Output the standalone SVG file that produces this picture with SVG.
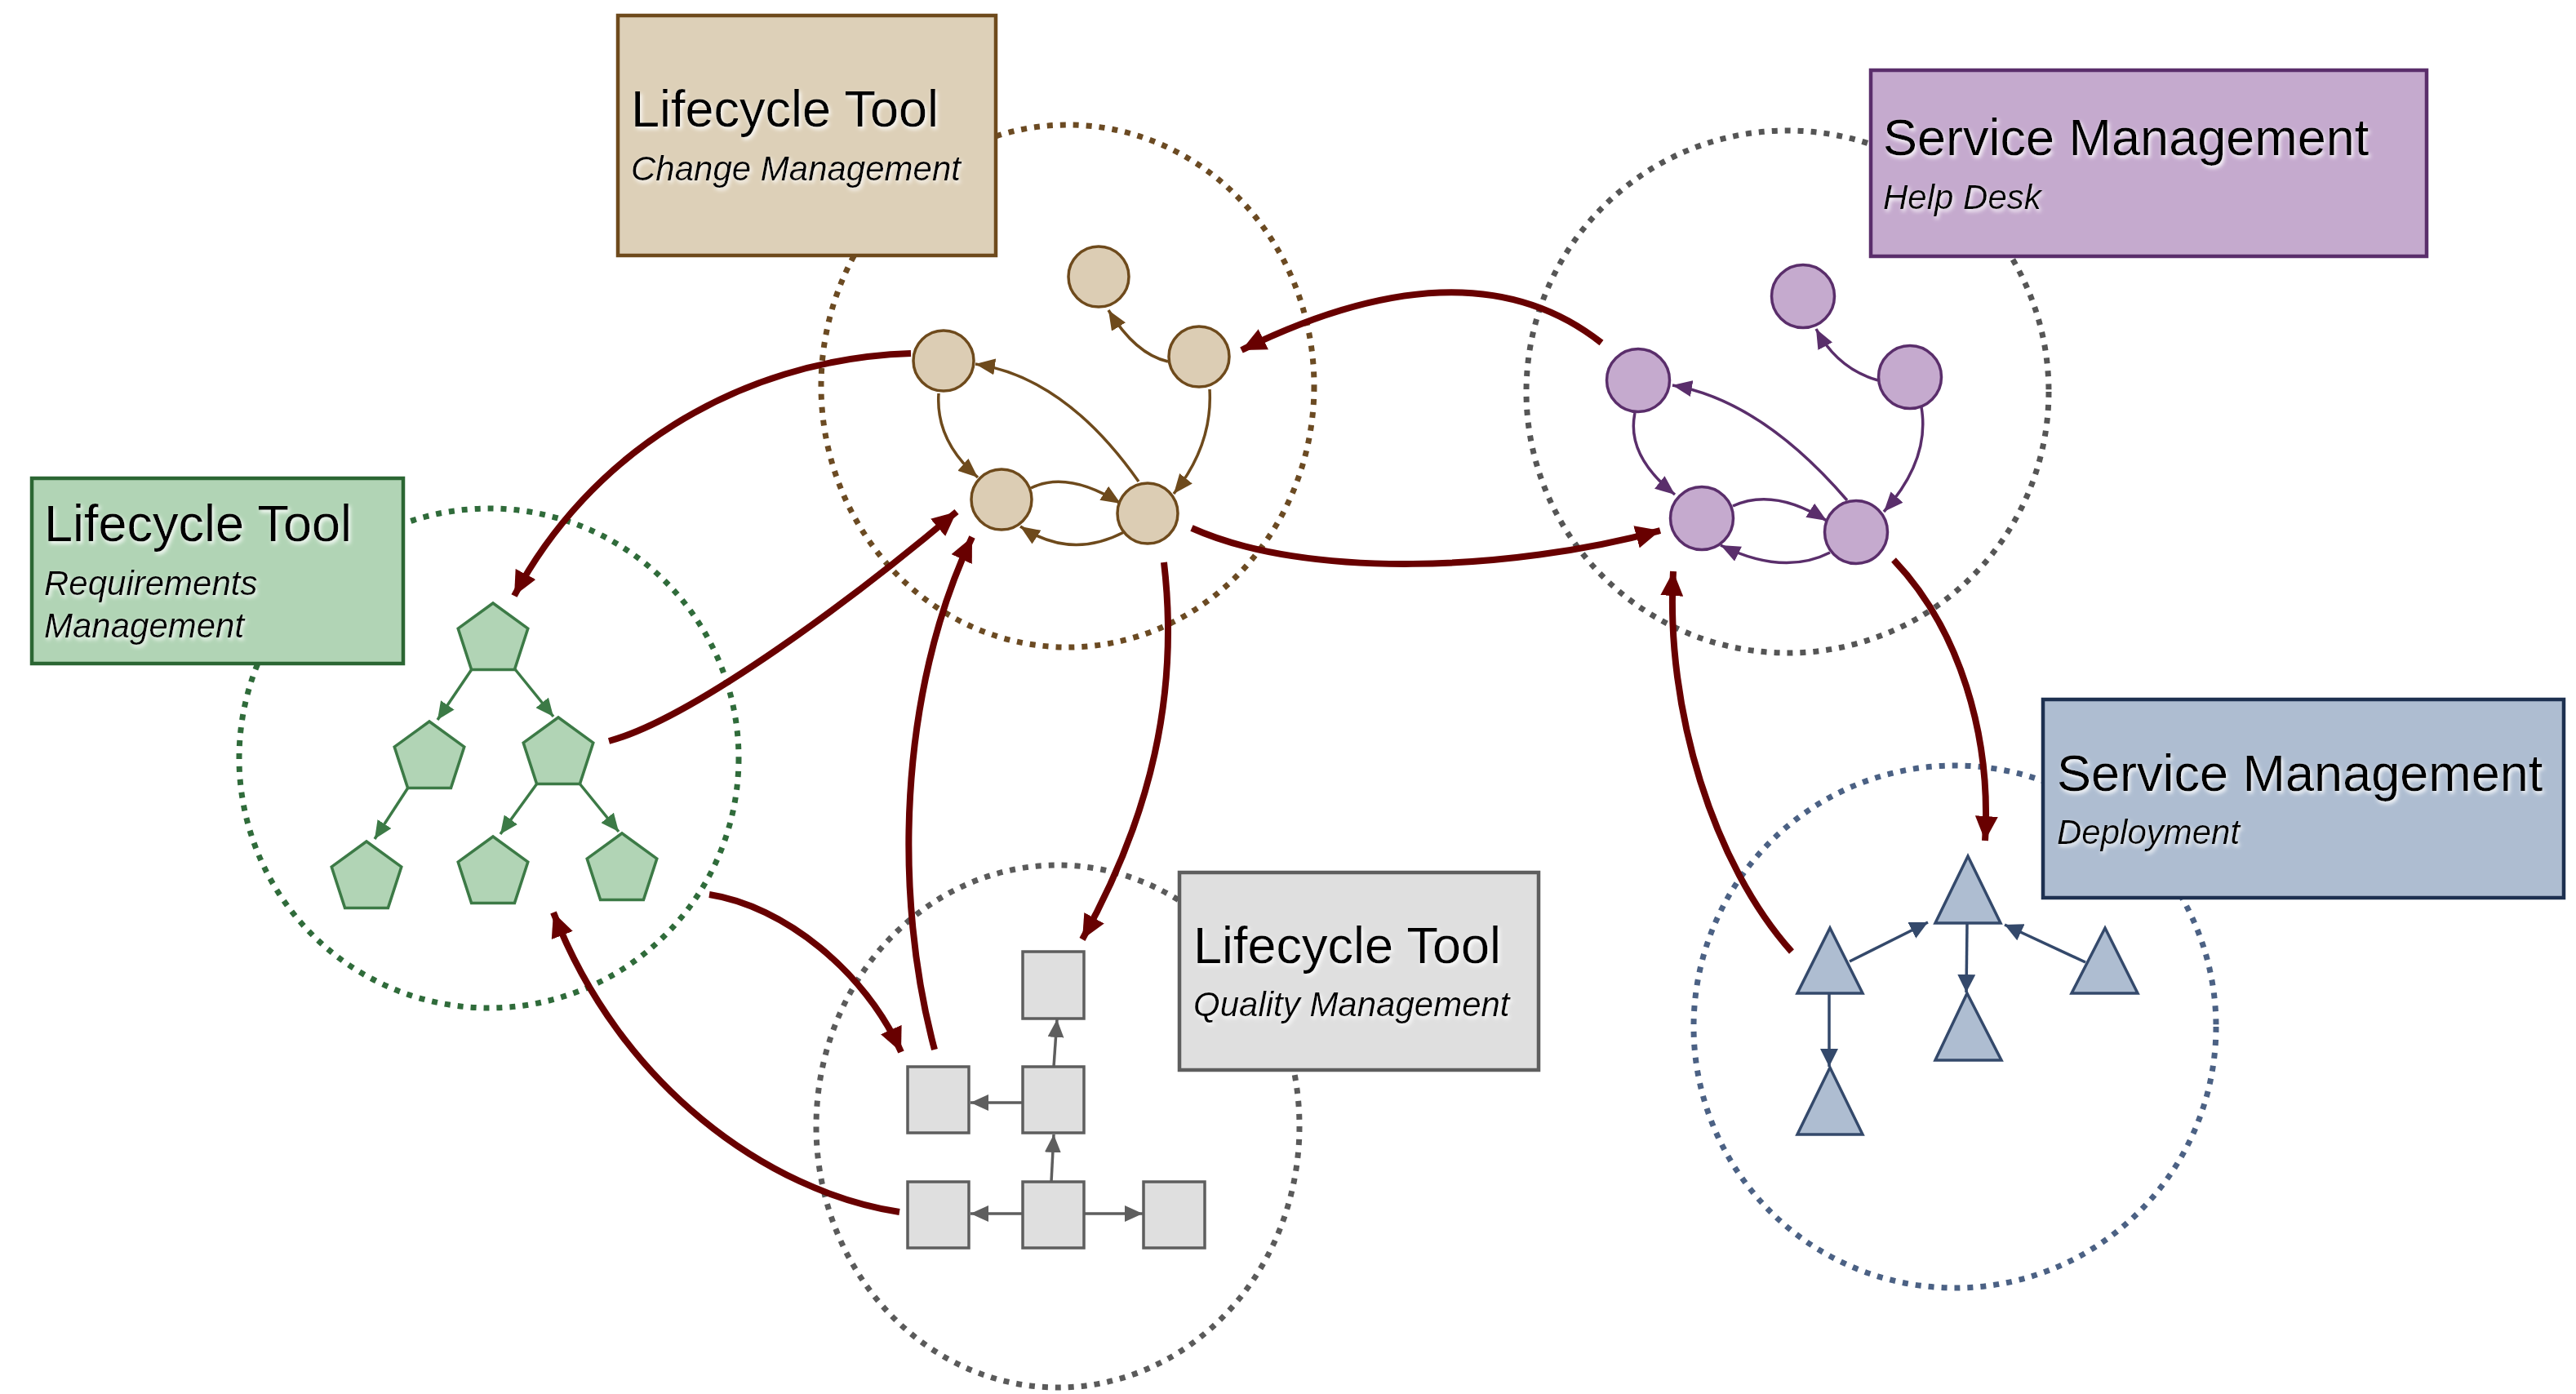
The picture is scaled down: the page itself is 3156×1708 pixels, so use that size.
<svg xmlns="http://www.w3.org/2000/svg" width="3156" height="1708" viewBox="0 0 3156 1708">
  <defs>
    <style>
      .ring { fill: none; stroke-width: 7; stroke-dasharray: 7 9; }
      .box { stroke-width: 4.5; }
      .title { font-family: "Liberation Sans", Arial, sans-serif; font-size: 63px; fill: #000; }
      .sub { font-family: "Liberation Sans", Arial, sans-serif; font-size: 42px; font-style: italic; fill: #000; }
      .link { fill: none; stroke: #680000; stroke-width: 8; marker-end: url(#aRed); }
      .eBrown { fill: none; stroke: #6e4a1c; stroke-width: 3.5; marker-end: url(#aBrown); }
      .ePurple { fill: none; stroke: #5a2e6b; stroke-width: 3.5; marker-end: url(#aPurple); }
      .eGreen { fill: none; stroke: #3c7a46; stroke-width: 3.5; marker-end: url(#aGreen); }
      .eGray { fill: none; stroke: #5e5e5e; stroke-width: 3.5; marker-end: url(#aGray); }
      .eBlue { fill: none; stroke: #34496b; stroke-width: 3.5; marker-end: url(#aBlue); }
      .nBrown { fill: #dccdb4; stroke: #6e4a1c; stroke-width: 3.5; }
      .nPurple { fill: #c5aace; stroke: #5a2e6b; stroke-width: 3.5; }
      .nGreen { fill: #b1d4b5; stroke: #3c7a46; stroke-width: 3.5; }
      .nGray { fill: #dfdfdf; stroke: #5e5e5e; stroke-width: 3.5; }
      .nBlue { fill: #aebdd1; stroke: #34496b; stroke-width: 3.5; }
    </style>
    <filter id="halo" x="-5%" y="-30%" width="110%" height="160%">
      <feGaussianBlur in="SourceAlpha" stdDeviation="2.4" result="b"/>
      <feOffset in="b" dx="2" dy="2.5" result="o"/>
      <feFlood flood-color="#ffffff" flood-opacity="1"/>
      <feComposite in2="o" operator="in" result="w"/>
      <feMerge>
        <feMergeNode in="w"/>
        <feMergeNode in="SourceGraphic"/>
      </feMerge>
    </filter>
    <marker id="aRed" markerUnits="userSpaceOnUse" markerWidth="32" markerHeight="28" refX="30" refY="14" orient="auto">
      <path d="M0,0 L30,14 L0,28 Z" fill="#680000"/>
    </marker>
    <marker id="aBrown" markerUnits="userSpaceOnUse" markerWidth="26" markerHeight="20" refX="24" refY="10" orient="auto">
      <path d="M0,0 L24,10 L0,20 Z" fill="#6e4a1c"/>
    </marker>
    <marker id="aPurple" markerUnits="userSpaceOnUse" markerWidth="26" markerHeight="20" refX="24" refY="10" orient="auto">
      <path d="M0,0 L24,10 L0,20 Z" fill="#5a2e6b"/>
    </marker>
    <marker id="aGreen" markerUnits="userSpaceOnUse" markerWidth="24" markerHeight="20" refX="22" refY="10" orient="auto">
      <path d="M0,0 L22,10 L0,20 Z" fill="#3c7a46"/>
    </marker>
    <marker id="aGray" markerUnits="userSpaceOnUse" markerWidth="24" markerHeight="20" refX="22" refY="10" orient="auto">
      <path d="M0,0 L22,10 L0,20 Z" fill="#5e5e5e"/>
    </marker>
    <marker id="aBlue" markerUnits="userSpaceOnUse" markerWidth="24" markerHeight="22" refX="22" refY="11" orient="auto">
      <path d="M0,0 L22,11 L0,22 Z" fill="#34496b"/>
    </marker>
  </defs>

  <rect width="3156" height="1708" fill="#ffffff"/>

  <!-- Lifecycle Tool: Change Management -->
  <g id="change-management">
    <ellipse class="ring" cx="1308" cy="473" rx="302" ry="320" stroke="#6b4a22"/>
    <rect class="box" x="757" y="19" width="463" height="294" fill="#ddd0b8" stroke="#6e4a1c"/>
    <g filter="url(#halo)">
      <text class="title" x="773" y="155">Lifecycle Tool</text>
      <text class="sub" x="773" y="221">Change Management</text>
    </g>
    <g id="cm-edges">
      <path class="eBrown" d="M1431,443 Q1391,434 1358,380"/>
      <path class="eBrown" d="M1482,477 Q1486,545 1438,605"/>
      <path class="eBrown" d="M1150,482 Q1146,540 1198,585"/>
      <path class="eBrown" d="M1395,590 Q1305,462 1195,446"/>
      <path class="eBrown" d="M1263,598 Q1308,576 1373,617"/>
      <path class="eBrown" d="M1377,652 Q1312,686 1250,645"/>
    </g>
    <circle id="cm-n1" class="nBrown" cx="1346" cy="339" r="37"/>
    <circle id="cm-n2" class="nBrown" cx="1156" cy="442" r="37"/>
    <circle id="cm-n3" class="nBrown" cx="1469" cy="437" r="37"/>
    <circle id="cm-n4" class="nBrown" cx="1227" cy="612" r="37"/>
    <circle id="cm-n5" class="nBrown" cx="1406" cy="629" r="37"/>
  </g>

  <!-- Service Management: Help Desk -->
  <g id="help-desk">
    <circle class="ring" cx="2190" cy="480" r="320" stroke="#555555"/>
    <rect class="box" x="2292" y="86" width="681" height="228" fill="#c5aace" stroke="#5a2e6b"/>
    <g filter="url(#halo)">
      <text class="title" x="2307" y="190">Service Management</text>
      <text class="sub" x="2307" y="256">Help Desk</text>
    </g>
    <g id="hd-edges">
      <path class="ePurple" d="M2301,466 Q2251,452 2225,403"/>
      <path class="ePurple" d="M2354,499 Q2365,563 2308,627"/>
      <path class="ePurple" d="M2003,506 Q1992,558 2052,606"/>
      <path class="ePurple" d="M2263,613 Q2158,491 2049,472"/>
      <path class="ePurple" d="M2123,620 Q2173,597 2238,638"/>
      <path class="ePurple" d="M2242,677 Q2185,706 2108,668"/>
    </g>
    <circle id="hd-n1" class="nPurple" cx="2209" cy="363" r="38.5"/>
    <circle id="hd-n2" class="nPurple" cx="2007" cy="466" r="38.5"/>
    <circle id="hd-n3" class="nPurple" cx="2340" cy="462" r="38.5"/>
    <circle id="hd-n4" class="nPurple" cx="2085" cy="635" r="38.5"/>
    <circle id="hd-n5" class="nPurple" cx="2274" cy="652" r="38.5"/>
  </g>

  <!-- Lifecycle Tool: Requirements Management -->
  <g id="requirements-management">
    <circle class="ring" cx="599" cy="929" r="306" stroke="#2f6b3a"/>
    <rect class="box" x="39" y="586" width="455" height="227" fill="#b1d4b5" stroke="#2b6633"/>
    <g filter="url(#halo)">
      <text class="title" x="54" y="663">Lifecycle Tool</text>
      <text class="sub" x="54" y="729">Requirements</text>
      <text class="sub" x="54" y="781">Management</text>
    </g>
    <g id="rm-edges">
      <path class="eGreen" d="M578,820 L536,882"/>
      <path class="eGreen" d="M631,820 L678,878"/>
      <path class="eGreen" d="M500,965 L459,1028"/>
      <path class="eGreen" d="M658,960 L613,1022"/>
      <path class="eGreen" d="M710,960 L758,1019"/>
    </g>
    <polygon id="rm-n1" class="nGreen" points="604,739 646.8,770.1 630.45,820.4 577.55,820.4 561.2,770.1"/>
    <polygon id="rm-n2" class="nGreen" points="526,884 568.8,915.1 552.45,965.4 499.55,965.4 483.2,915.1"/>
    <polygon id="rm-n3" class="nGreen" points="684,879 726.8,910.1 710.45,960.4 657.55,960.4 641.2,910.1"/>
    <polygon id="rm-n4" class="nGreen" points="449,1031 491.8,1062.1 475.45,1112.4 422.55,1112.4 406.2,1062.1"/>
    <polygon id="rm-n5" class="nGreen" points="604,1025 646.8,1056.1 630.45,1106.4 577.55,1106.4 561.2,1056.1"/>
    <polygon id="rm-n6" class="nGreen" points="762,1021 804.8,1052.1 788.45,1102.4 735.55,1102.4 719.2,1052.1"/>
  </g>

  <!-- Lifecycle Tool: Quality Management -->
  <g id="quality-management">
    <ellipse class="ring" cx="1296" cy="1380" rx="296" ry="320" stroke="#5a5a5a"/>
    <rect class="box" x="1445" y="1069" width="440" height="242" fill="#dfdfdf" stroke="#5e5e5e"/>
    <g filter="url(#halo)">
      <text class="title" x="1462" y="1180">Lifecycle Tool</text>
      <text class="sub" x="1462" y="1245">Quality Management</text>
    </g>
    <g id="qm-edges">
      <path class="eGray" d="M1253,1351 L1189,1351"/>
      <path class="eGray" d="M1291,1307 L1295,1249"/>
      <path class="eGray" d="M1288,1448 L1291,1390"/>
      <path class="eGray" d="M1253,1487 L1189,1487"/>
      <path class="eGray" d="M1328,1487 L1400,1487"/>
    </g>
    <rect id="qm-n1" class="nGray" x="1253" y="1166" width="75" height="82"/>
    <rect id="qm-n2" class="nGray" x="1112" y="1307" width="75" height="81"/>
    <rect id="qm-n3" class="nGray" x="1253" y="1307" width="75" height="81"/>
    <rect id="qm-n4" class="nGray" x="1112" y="1448" width="75" height="81"/>
    <rect id="qm-n5" class="nGray" x="1253" y="1448" width="75" height="81"/>
    <rect id="qm-n6" class="nGray" x="1401" y="1448" width="75" height="81"/>
  </g>

  <!-- Service Management: Deployment -->
  <g id="deployment">
    <circle class="ring" cx="2395" cy="1258" r="320" stroke="#4b6184"/>
    <rect class="box" x="2503" y="857" width="638" height="243" fill="#aebdd1" stroke="#1d3050"/>
    <g filter="url(#halo)">
      <text class="title" x="2520" y="969">Service Management</text>
      <text class="sub" x="2520" y="1034">Deployment</text>
    </g>
    <g id="dp-edges">
      <path class="eBlue" d="M2266,1178 L2362,1130"/>
      <path class="eBlue" d="M2555,1179 L2456,1133"/>
      <path class="eBlue" d="M2410,1131 L2409,1216"/>
      <path class="eBlue" d="M2241,1217 L2241,1307"/>
    </g>
    <polygon id="dp-n1" class="nBlue" points="2411,1049 2451,1131 2371,1131"/>
    <polygon id="dp-n2" class="nBlue" points="2242,1137 2282,1217 2202,1217"/>
    <polygon id="dp-n3" class="nBlue" points="2579,1137 2619,1217 2538,1217"/>
    <polygon id="dp-n4" class="nBlue" points="2410,1217 2452,1299 2371,1299"/>
    <polygon id="dp-n5" class="nBlue" points="2242,1308 2282,1390 2202,1390"/>
  </g>

  <!-- Links between the tools -->
  <g id="connectors">
    <path class="link" d="M1116,433 C900,440 720,560 630,730"/>
    <path class="link" d="M746,908 C850,880 1050,730 1172,627"/>
    <path class="link" d="M1460,647 C1600,710 1850,700 2034,650"/>
    <path class="link" d="M1962,420 Q1800,292 1521,429"/>
    <path class="link" d="M1426,689 C1445,850 1410,1000 1326,1151"/>
    <path class="link" d="M1145,1286 C1095,1100 1100,850 1191,658"/>
    <path class="link" d="M869,1096 C960,1110 1060,1190 1104,1289"/>
    <path class="link" d="M1102,1485 C940,1460 760,1330 678,1118"/>
    <path class="link" d="M2320,686 C2400,770 2440,900 2432,1030"/>
    <path class="link" d="M2195,1166 C2100,1060 2040,870 2050,700"/>
  </g>
</svg>
